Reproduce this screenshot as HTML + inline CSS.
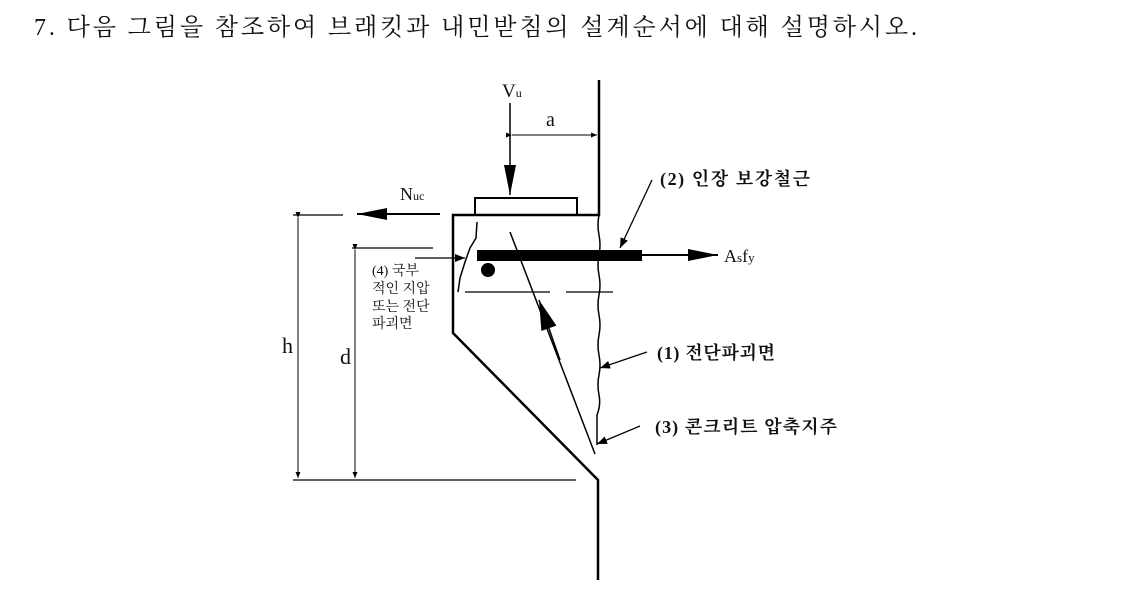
<!DOCTYPE html>
<html><head><meta charset="utf-8"><style>
html,body{margin:0;padding:0;background:#fff;width:1130px;height:600px;overflow:hidden}
svg{display:block}
.k{font-family:"Liberation Serif","Noto Serif CJK SC","Noto Sans CJK KR",serif;font-size:18px;fill:#111}
.s{font-family:"Liberation Serif","Noto Serif CJK SC",serif;fill:#111}
</style></head><body>
<svg width="1130" height="600" viewBox="0 0 1130 600" xmlns="http://www.w3.org/2000/svg">
<defs>
<marker id="ah" markerWidth="10" markerHeight="8" refX="10" refY="4" orient="auto" markerUnits="userSpaceOnUse"><path d="M0,0 L10,4 L0,8z" fill="#000"/></marker>
<marker id="big" markerWidth="30" markerHeight="12" refX="30" refY="6" orient="auto" markerUnits="userSpaceOnUse"><path d="M0,0 L30,6 L0,12z" fill="#000"/></marker>
<marker id="bg2" markerWidth="30" markerHeight="16" refX="30" refY="8" orient="auto" markerUnits="userSpaceOnUse"><path d="M0,0 L30,8 L0,16z" fill="#000"/></marker>
<marker id="sm" markerWidth="6" markerHeight="5" refX="6" refY="2.5" orient="auto" markerUnits="userSpaceOnUse"><path d="M0,0 L6,2.5 L0,5z" fill="#000"/></marker>
</defs>
<text x="34" y="35" class="s" font-size="24" textLength="883" lengthAdjust="spacing">7. 다음 그림을 참조하여 브래킷과 내민받침의 설계순서에 대해 설명하시오.</text>
<g stroke="#000" fill="none">
<path d="M599,80 V215 H453 V333 L598,480 V580" stroke-width="2.5"/>
<rect x="475" y="198" width="102" height="17" stroke-width="2"/>
<line x1="510" y1="103" x2="510" y2="195" stroke-width="1.5" marker-end="url(#big)"/>
<line x1="512" y1="135" x2="597" y2="135" stroke-width="1" marker-start="url(#sm)" marker-end="url(#sm)"/>
<line x1="440" y1="214" x2="357" y2="214" stroke-width="2" marker-end="url(#big)"/>
<line x1="293" y1="215" x2="343" y2="215" stroke-width="1.2"/>
<line x1="352" y1="248" x2="433" y2="248" stroke-width="1.2"/>
<line x1="293" y1="480" x2="576" y2="480" stroke-width="1.2"/>
<line x1="298" y1="218" x2="298" y2="478" stroke-width="1" marker-start="url(#sm)" marker-end="url(#sm)"/>
<line x1="355" y1="250" x2="355" y2="478" stroke-width="1" marker-start="url(#sm)" marker-end="url(#sm)"/>
<rect x="477" y="250" width="165" height="11" fill="#000" stroke="none"/>
<line x1="642" y1="255" x2="718" y2="255" stroke-width="2" marker-end="url(#big)"/>
<circle cx="488" cy="270" r="7" fill="#000" stroke="none"/>
<line x1="465" y1="292" x2="550" y2="292" stroke-width="1.2"/>
<line x1="566" y1="292" x2="613" y2="292" stroke-width="1.2"/>
<path d="M599,215 q-2,10 0,20 q2,10 0,20 q-2,10 0,20 q2,10 0,20 q-2,10 0,20 q2,10 0,20 q-2,10 0,20 q2,10 0,20 q-2,10 0,20 q2,10 -2,20 v30" stroke-width="1.5"/>
<path d="M477,222 L476,238 L470,248 L465,262 L460,278 L458,292" stroke-width="1.5"/>
<line x1="595" y1="454" x2="510" y2="232" stroke-width="1.5"/>
<line x1="560" y1="360" x2="539" y2="300" stroke-width="1.5" marker-end="url(#bg2)"/>
<line x1="652" y1="180" x2="620" y2="248" stroke-width="1.3" marker-end="url(#ah)"/>
<line x1="647" y1="352" x2="600" y2="368" stroke-width="1.3" marker-end="url(#ah)"/>
<line x1="640" y1="426" x2="597" y2="444" stroke-width="1.3" marker-end="url(#ah)"/>
<line x1="415" y1="258" x2="465" y2="258" stroke-width="1.3" marker-end="url(#ah)"/>
</g>
<text x="502" y="97" class="s" font-size="19">V<tspan font-size="12">u</tspan></text>
<text x="546" y="126" class="s" font-size="20">a</text>
<text x="400" y="200" class="s" font-size="18">N<tspan font-size="12">uc</tspan></text>
<text x="282" y="353" class="s" font-size="22">h</text>
<text x="340" y="364" class="s" font-size="22">d</text>
<text x="724" y="262" class="s" font-size="18">A<tspan font-size="13">s</tspan>f<tspan font-size="13">y</tspan></text>
<text x="660" y="185" class="k" font-weight="bold" textLength="150" lengthAdjust="spacing">(2) 인장 보강철근</text>
<text x="657" y="359" class="k" font-weight="bold" textLength="118" lengthAdjust="spacing">(1) 전단파괴면</text>
<text x="655" y="433" class="k" font-weight="bold" textLength="182" lengthAdjust="spacing">(3) 콘크리트 압축지주</text>
<g class="k" style="font-size:14px">
<text x="372" y="275">(4) 국부</text>
<text x="372" y="293">적인 지압</text>
<text x="372" y="311">또는 전단</text>
<text x="372" y="328">파괴면</text>
</g>
</svg>
</body></html>
